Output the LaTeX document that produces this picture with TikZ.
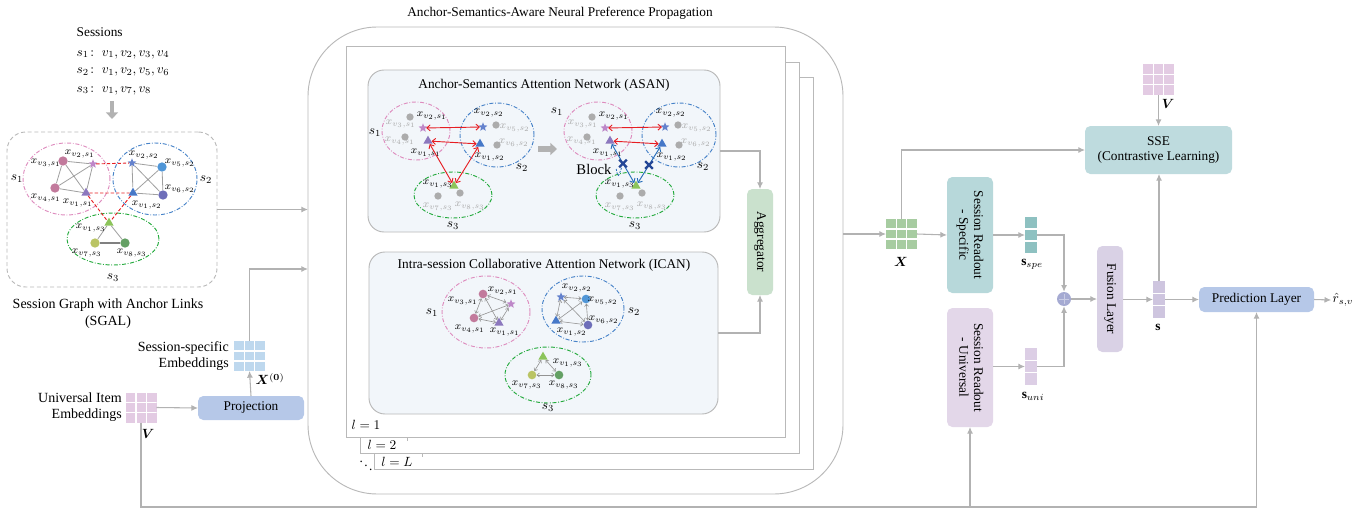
\documentclass[tikz,border=0pt]{standalone}
\usepackage{fontspec}
\setmainfont{Liberation Serif}
\usepackage{amsmath,bm,graphicx}
\usetikzlibrary{arrows.meta,shapes.geometric,shapes.misc,calc}

\definecolor{lin}{RGB}{178,178,178}
\definecolor{frm}{RGB}{185,185,185}
\definecolor{projc}{RGB}{182,200,232}
\definecolor{aggc}{RGB}{202,225,205}
\definecolor{specc}{RGB}{183,216,218}
\definecolor{ssec}{RGB}{190,219,222}
\definecolor{univc}{RGB}{227,215,233}
\definecolor{fusc}{RGB}{217,209,229}
\definecolor{panel}{RGB}{242,246,250}
\definecolor{matg}{RGB}{167,204,161}
\definecolor{matb}{RGB}{190,216,238}
\definecolor{matv}{RGB}{227,203,227}
\definecolor{vspe}{RGB}{142,193,193}
\definecolor{vuni}{RGB}{220,206,229}
\definecolor{vsc}{RGB}{206,197,223}
\definecolor{plusc}{RGB}{165,170,210}
\definecolor{ellP}{RGB}{222,140,190}
\definecolor{ellB}{RGB}{70,130,200}
\definecolor{ellG}{RGB}{35,170,60}
\definecolor{nPk}{RGB}{194,122,156}
\definecolor{nStP}{RGB}{190,135,200}
\definecolor{nTrP}{RGB}{140,120,190}
\definecolor{nStB}{RGB}{100,130,205}
\definecolor{nCB}{RGB}{80,150,215}
\definecolor{nCI}{RGB}{110,110,185}
\definecolor{nTrB}{RGB}{70,120,200}
\definecolor{nTrG}{RGB}{140,196,90}
\definecolor{nC7}{RGB}{186,196,100}
\definecolor{nC8}{RGB}{100,160,100}
\definecolor{gdotc}{RGB}{172,172,172}
\definecolor{glabc}{RGB}{170,170,170}
\definecolor{redA}{RGB}{230,30,35}
\definecolor{bluA}{RGB}{40,110,185}
\definecolor{blkc}{RGB}{35,70,150}

% one ASAN sub-graph (three sessions, anchor items), node names prefixed by #1
\newcommand\asangraph[1]{%
  \draw[dd, draw=ellP] (416,131) ellipse [x radius=25.5pt, y radius=21.75pt];
  \draw[dd, draw=ellB] (497,135) ellipse [x radius=27.75pt, y radius=24pt];
  \draw[dd, draw=ellG] (453,195) ellipse [x radius=29.25pt, y radius=17.25pt];
  \node[gdot] (#1g3) at (410,117) {};
  \node[gdot] (#1g4) at (405,137) {};
  \node[sdot, fill=nStP] (#1a2) at (423,128) {};
  \node[tdot, fill=nTrP] (#1a1) at (428,141) {};
  \node[sdot, fill=nStB] (#1b2) at (483,127) {};
  \node[gdot] (#1g5) at (496,125) {};
  \node[tdot, fill=nTrB] (#1b1) at (480,144) {};
  \node[gdot] (#1g6) at (497,145) {};
  \node[tdot, fill=nTrG] (#1c1) at (454,186) {};
  \node[gdot] (#1g7) at (438,196) {};
  \node[gdot] (#1g8) at (460,193) {};
  \node[glab] (#1lg3) at (401,124) {$x_{v_3,s_1}$};
  \node[glab] (#1lg4) at (400,141) {$x_{v_4,s_1}$};
  \node[lab] (#1la2) at (432,116) {$x_{v_2,s_1}$};
  \node[lab] (#1la1) at (426,153) {$x_{v_1,s_1}$};
  \node[lab] (#1lb2) at (489,113) {$x_{v_2,s_2}$};
  \node[glab] (#1lg5) at (515,128) {$x_{v_5,s_2}$};
  \node[glab] (#1lg6) at (514,143) {$x_{v_6,s_2}$};
  \node[lab] (#1lb1) at (490,157) {$x_{v_1,s_2}$};
  \node[lab] (#1lc1) at (438,184) {$x_{v_1,s_3}$};
  \node[glab] (#1lg7) at (438,207) {$x_{v_7,s_3}$};
  \node[glab] (#1lg8) at (470,206) {$x_{v_8,s_3}$};
  \draw[rarr] (#1a2) -- (#1b2);
  \draw[rarr] (#1a1) -- (#1b1);
}

\begin{document}
\begin{tikzpicture}[x=0.75pt, y=-0.75pt, font=\fontsize{10}{12}\selectfont,
  arr/.style={draw=lin, line width=0.8pt, -{Latex[length=5pt,width=4.5pt]}},
  bigarr/.style={draw=lin, line width=3.5pt, -{Triangle[length=5pt,width=9pt]}},
  box/.style={rounded corners=4pt, inner sep=0pt, outer sep=0pt, align=center},
  frame/.style={draw=frm, line width=0.7pt, inner sep=0pt, outer sep=0pt},
  grid3/.style={inner sep=0pt, outer sep=0pt, minimum width=23.25pt, minimum height=22.5pt, fill=#1,
    path picture={
      \foreach \f in {0.3333,0.6667}{
        \draw[white, line width=1pt]
          ($(path picture bounding box.north west)!\f!(path picture bounding box.north east)$) --
          ($(path picture bounding box.south west)!\f!(path picture bounding box.south east)$);
        \draw[white, line width=1pt]
          ($(path picture bounding box.north west)!\f!(path picture bounding box.south west)$) --
          ($(path picture bounding box.north east)!\f!(path picture bounding box.south east)$);
      }}},
  vec3/.style={inner sep=0pt, outer sep=0pt, minimum width=9pt, minimum height=27.5pt, fill=#1,
    path picture={
      \foreach \f in {0.3333,0.6667}{
        \draw[white, line width=1pt]
          ($(path picture bounding box.north west)!\f!(path picture bounding box.south west)$) --
          ($(path picture bounding box.north east)!\f!(path picture bounding box.south east)$);
      }}},
  dd/.style={line width=0.7pt, dash pattern=on 3pt off 1.3pt on 0.6pt off 1.3pt},
  cdot/.style={circle, inner sep=0pt, minimum size=7pt},
  gdot/.style={circle, inner sep=0pt, minimum size=5.5pt, fill=gdotc},
  sdot/.style={star, star points=5, star point ratio=2.3, inner sep=0pt, minimum size=7pt},
  tdot/.style={regular polygon, regular polygon sides=3, inner sep=0pt, minimum size=8pt},
  lab/.style={inner sep=0pt, font=\fontsize{8.5}{9}\selectfont},
  glab/.style={lab, text=glabc},
  gedge/.style={draw=gray!75, line width=0.6pt},
  redge/.style={draw=redA, line width=0.7pt, dash pattern=on 2.5pt off 1.5pt},
  rarr/.style={draw=redA, line width=0.7pt, {Straight Barb[length=2.5pt,width=4.5pt]}-{Straight Barb[length=2.5pt,width=4.5pt]}},
  barr/.style={rarr, draw=bluA},
  iarr/.style={draw=gray!85, line width=0.45pt, {Straight Barb[length=1.8pt,width=3pt]}-{Straight Barb[length=1.8pt,width=3pt]}},
  blk/.style={cross out, draw=blkc, line width=1.8pt, minimum size=4pt, inner sep=0pt}
]
\useasboundingbox (0,0) rectangle (1369,510);

% ---------------- sessions and SGAL ----------------
\node[anchor=base west] (sessT) at (72,37) {Sessions};
\node[anchor=base west] (sess1) at (72,56) {$s_1\colon\ v_1, v_2, v_3, v_4$};
\node[anchor=base west] (sess2) at (72,74) {$s_2\colon\ v_1, v_2, v_5, v_6$};
\node[anchor=base west] (sess3) at (72,92) {$s_3\colon\ v_1, v_7, v_8$};

\node[draw=frm, dash pattern=on 3pt off 2pt, line width=0.7pt, rounded corners=14pt,
      minimum width=157.5pt, minimum height=116.25pt, inner sep=0pt, outer sep=0pt] (sgal) at (112,209.5) {};
\draw[bigarr] ($(sgal.north)+(0,-31)$) -- ($(sgal.north)+(0,-13)$);
\node[align=center, font=\fontsize{10.5}{12.75}\selectfont] (sgallab) at (108,314) {Session Graph with Anchor Links\\(SGAL)};

\draw[dd, draw=ellP] (66.5,179) ellipse [x radius=32.6pt, y radius=27pt];
\draw[dd, draw=ellB] (155,179) ellipse [x radius=31.5pt, y radius=27pt];
\draw[dd, draw=ellG] (113,239) ellipse [x radius=34.5pt, y radius=19.5pt];

\node[cdot, fill=nPk] (sa3) at (63,161) {};
\node[sdot, fill=nStP] (sa2) at (93,164) {};
\node[cdot, fill=nPk] (sa4) at (55,188) {};
\node[tdot, fill=nTrP] (sa1) at (86,193) {};
\node[sdot, fill=nStB] (sb2) at (132,163) {};
\node[cdot, fill=nCB] (sb5) at (162,167) {};
\node[cdot, fill=nCI] (sb6) at (163,195) {};
\node[tdot, fill=nTrB] (sb1) at (133,193) {};
\node[tdot, fill=nTrG] (sc1) at (109,223) {};
\node[cdot, fill=nC7] (sc7) at (95,243) {};
\node[cdot, fill=nC8] (sc8) at (125,243) {};

\draw[gedge] (sa3)--(sa2) (sa3)--(sa4) (sa3)--(sa1) (sa2)--(sa4) (sa2)--(sa1) (sa4)--(sa1);
\draw[gedge] (sb2)--(sb5) (sb2)--(sb6) (sb2)--(sb1) (sb5)--(sb6) (sb5)--(sb1) (sb6)--(sb1);
\draw[gedge] (sc1)--(sc7) (sc1)--(sc8);
\draw[gedge, line width=1.3pt, draw=gray] (sc7)--(sc8);
\draw[redge] (sa2)--(sb2) (sa1)--(sb1) (sa1)--(sc1) (sb1)--(sc1);

\node[lab] (lsa3) at (46,163) {$x_{v_3,s_1}$};
\node[lab] (lsa2) at (80,154) {$x_{v_2,s_1}$};
\node[lab] (lsa4) at (46,198) {$x_{v_4,s_1}$};
\node[lab] (lsa1) at (78,203) {$x_{v_1,s_1}$};
\node[lab] (lsb2) at (144,155) {$x_{v_2,s_2}$};
\node[lab] (lsb5) at (180,163) {$x_{v_5,s_2}$};
\node[lab] (lsb6) at (180,189) {$x_{v_6,s_2}$};
\node[lab] (lsb1) at (147,205) {$x_{v_1,s_2}$};
\node[lab] (lsc1) at (91,228) {$x_{v_1,s_3}$};
\node[lab] (lsc7) at (87,253) {$x_{v_7,s_3}$};
\node[lab] (lsc8) at (132,253) {$x_{v_8,s_3}$};
\node (gs1) at (17,179) {$s_1$};
\node (gs2) at (206,180) {$s_2$};
\node (gs3) at (113,278) {$s_3$};

% ---------------- embeddings and projection ----------------
\node[grid3=matv] (V) at (141,407.5) {};
\node (lV) at (148,434) {$\bm{V}$};
\node[anchor=east, align=right, font=\fontsize{10.5}{12}\selectfont, inner sep=0pt] (uie) at (122,407) {Universal Item\\Embeddings};
\node[box, fill=projc, minimum width=79.5pt, minimum height=18pt] (proj) at (251,408) {Projection};
\node[grid3=matb] (X0) at (249.5,356) {};
\node (lX0) at (270,379) {$\bm{X}^{(\bm{0})}$};
\node[anchor=east, align=right, font=\fontsize{10.5}{12}\selectfont, inner sep=0pt] (sse0) at (229,356) {Session-specific\\Embeddings};

% ---------------- propagation frames ----------------
\node[frame, rounded corners=52pt, minimum width=401.25pt, minimum height=350.25pt] (nppf) at (575.5,260.5) {};
\node (title) at (560,13) {Anchor-Semantics-Aware Neural Preference Propagation};
\node[frame, fill=white, minimum width=329pt, minimum height=294pt] (f3) at (594,273) {};
\node[frame, fill=white, minimum width=329.25pt, minimum height=293.25pt] (f2) at (579.5,257.5) {};
\node[frame, fill=white, minimum width=329.25pt, minimum height=293.25pt] (f1) at (565.5,241.5) {};
\draw[frame] (407,437) -- (407,441);
\draw[frame] (422,453) -- (422,457);
\node (l1) at (366,425) {$l = 1$};
\node (l2) at (382,445) {$l = 2$};
\node (lL) at (397,462) {$l = L$};
\node (ldots) at (366,462) {$\ddots$};

\draw[arr] (sgal.east) -- (sgal.east -| nppf.west);
\coordinate (jx0) at (249.5,269);
\draw[arr] (X0.north) |- (nppf.west |- jx0);
\draw[arr] (V.east) -- (proj.west);
\draw[arr] (proj.north) -- (X0.south);

% ASAN panel
\node[draw=frm, fill=panel, rounded corners=12pt, line width=0.7pt, inner sep=0pt, outer sep=0pt,
      minimum width=264pt, minimum height=121.5pt] (asan) at (544,151) {};
\node (asant) at (544,85) {Anchor-Semantics Attention Network (ASAN)};
\asangraph{L}
\begin{scope}[xshift=136.5pt]
  \asangraph{R}
\end{scope}
\node (las1) at (375,133) {$s_1$};
\node (las2) at (522,168) {$s_2$};
\node (las3) at (453,226) {$s_3$};
\node (ras1) at (557,112) {$s_1$};
\node (ras2) at (703,167) {$s_2$};
\node (ras3) at (635,226) {$s_3$};
\draw[rarr] (La1) -- (Lc1);
\draw[rarr] (Lb1) -- (Lc1);
\draw[barr] (Ra1) -- (Rc1);
\draw[barr] (Rb1) -- (Rc1);
\node[blk] (blk1) at ($(Ra1)!0.5!(Rc1)$) {};
\node[blk] (blk2) at ($(Rb1)!0.5!(Rc1)$) {};
\node[font=\fontsize{11}{12}\selectfont] (block) at (594,169) {Block};
\draw[draw=bluA, line width=0.6pt, dash pattern=on 1.5pt off 1pt] (block.east) .. controls (618,178) .. (blk1);
\coordinate (ga1) at (538,149);
\coordinate (ga2) at (557,149);
\draw[bigarr, line width=4pt] (ga1) -- (ga2);

% ICAN panel
\node[draw=frm, fill=panel, rounded corners=12pt, line width=0.7pt, inner sep=0pt, outer sep=0pt,
      minimum width=261.75pt, minimum height=121.5pt] (ican) at (543.5,333) {};
\node (icant) at (544,265) {Intra-session Collaborative Attention Network (ICAN)};
\draw[dd, draw=ellP] (486,312) ellipse [x radius=33pt, y radius=27pt];
\draw[dd, draw=ellB] (583,309) ellipse [x radius=30.75pt, y radius=24.75pt];
\draw[dd, draw=ellG] (548,375) ellipse [x radius=32.25pt, y radius=21pt];
\node[cdot, fill=nPk, minimum size=6.5pt] (i3) at (483,294) {};
\node[sdot, fill=nStP] (i2) at (511,304) {};
\node[cdot, fill=nPk, minimum size=6.5pt] (i4) at (474,318) {};
\node[tdot, fill=nTrP] (i1) at (499,323) {};
\node[sdot, fill=nStB] (j2) at (561,297) {};
\node[cdot, fill=nCB, minimum size=6.5pt] (j5) at (586,299) {};
\node[tdot, fill=nTrB] (j1) at (556,321) {};
\node[cdot, fill=nCI, minimum size=6.5pt] (j6) at (588,325) {};
\node[tdot, fill=nTrG] (k1) at (543,357) {};
\node[cdot, fill=nC7, minimum size=6.5pt] (k7) at (532,375) {};
\node[cdot, fill=nC8, minimum size=6.5pt] (k8) at (559,375) {};
\draw[iarr] (i3)--(i2); \draw[iarr] (i3)--(i4); \draw[iarr] (i3)--(i1);
\draw[iarr] (i2)--(i4); \draw[iarr] (i2)--(i1); \draw[iarr] (i4)--(i1);
\draw[iarr] (j2)--(j5); \draw[iarr] (j2)--(j1); \draw[iarr] (j2)--(j6);
\draw[iarr] (j5)--(j1); \draw[iarr] (j5)--(j6); \draw[iarr] (j1)--(j6);
\draw[iarr] (k1)--(k7); \draw[iarr] (k1)--(k8); \draw[iarr] (k7)--(k8);
\node[lab] (li3) at (463,301) {$x_{v_3,s_1}$};
\node[lab] (li2) at (503,291) {$x_{v_2,s_1}$};
\node[lab] (li4) at (470,329) {$x_{v_4,s_1}$};
\node[lab] (li1) at (505,332) {$x_{v_1,s_1}$};
\node[lab] (lj2) at (577,288) {$x_{v_2,s_2}$};
\node[lab] (lj5) at (603,301) {$x_{v_5,s_2}$};
\node[lab] (lj6) at (604,320) {$x_{v_6,s_2}$};
\node[lab] (lj1) at (572,332) {$x_{v_1,s_2}$};
\node[lab] (lk1) at (568,363) {$x_{v_1,s_3}$};
\node[lab] (lk7) at (527,385) {$x_{v_7,s_3}$};
\node[lab] (lk8) at (564,385) {$x_{v_8,s_3}$};
\node (is1) at (432,313) {$s_1$};
\node (is2) at (634,312) {$s_2$};
\node (is3) at (548,408) {$s_3$};

% aggregator
\node[box, fill=aggc, minimum width=19.5pt, minimum height=79.5pt] (agg) at (760,242) {\rotatebox{-90}{Aggregator}};
\draw[arr] (asan.east) -| (agg.north);
\draw[arr] (ican.east) -| (agg.south);

% ---------------- readout, fusion, prediction ----------------
\node[grid3=matg] (X) at (901.5,234) {};
\node (lX) at (901,262) {$\bm{X}$};
\draw[arr] (X.west -| nppf.east) -- (X.west);

\node[box, fill=specc, minimum width=34.5pt, minimum height=87pt] (spec) at (970,235)
  {\rotatebox{-90}{\begin{tabular}{@{}c@{}}Session Readout\\[-1pt]- Specific\end{tabular}}};
\node[box, fill=univc, minimum width=34.5pt, minimum height=89.25pt] (univ) at (970,367.5)
  {\rotatebox{-90}{\begin{tabular}{@{}c@{}}Session Readout\\[-1pt]- Universal\end{tabular}}};
\node[vec3=vspe, minimum height=27pt] (sspe) at (1031,235) {};
\node (lsspe) at (1032,264) {$\mathbf{s}_{spe}$};
\node[vec3=vuni] (suni) at (1031,366.5) {};
\node (lsuni) at (1033,396) {$\mathbf{s}_{uni}$};
\node[circle, fill=plusc, minimum size=10.5pt, inner sep=0pt] (plus) at (1064,299) {};
\draw[draw=plusc!60!white, line width=0.5pt] ($(plus)+(-5,0)$) -- ($(plus)+(5,0)$) ($(plus)+(0,-5)$) -- ($(plus)+(0,5)$);
\node[box, fill=fusc, minimum width=19.5pt, minimum height=79.5pt] (fus) at (1110,299) {\rotatebox{-90}{Fusion Layer}};
\node[vec3=vsc] (svec) at (1159,299.5) {};
\node (lsvec) at (1158,327) {$\mathbf{s}$};
\node[box, fill=projc, minimum width=86.25pt, minimum height=18.75pt] (pred) at (1256.5,299.5) {Prediction Layer};
\node[inner sep=1pt] (rhat) at (1343,300) {$\hat{r}_{s,v}$};
\node[box, fill=ssec, minimum width=110.25pt, minimum height=36pt] (sse) at (1158.5,150)
  {SSE\\[-1pt](Contrastive Learning)};
\node[grid3=matv, minimum height=23.25pt] (Vt) at (1158.5,79.5) {};
\node (lVt) at (1168,104) {$\bm{V}$};

\draw[arr] (X.east) -- (spec.west);
\draw[arr] (X.north) |- (sse.west);
\draw[arr] (spec.east) -- (sspe.west);
\draw[arr] (univ.east |- suni.west) -- (suni.west);
\draw[arr] (sspe.east) -| (plus.north);
\draw[arr] (suni.east) -| (plus.south);
\draw[arr] (plus.east) -- (fus.west |- plus.east);
\draw[arr] (fus.east |- svec.west) -- (svec.west);
\draw[arr] (svec.north) -- (svec.north |- sse.south);
\draw[arr] (svec.east) -- (pred.west);
\draw[arr] (pred.east) -- (rhat.west);
\draw[arr] (Vt.south) -- (sse.north);

\coordinate (cb) at (141,507);
\draw[arr] (V.south) |- (pred.south |- cb) -- (pred.south);
\draw[arr] (univ.south |- cb) -- (univ.south);
\end{tikzpicture}
\end{document}
